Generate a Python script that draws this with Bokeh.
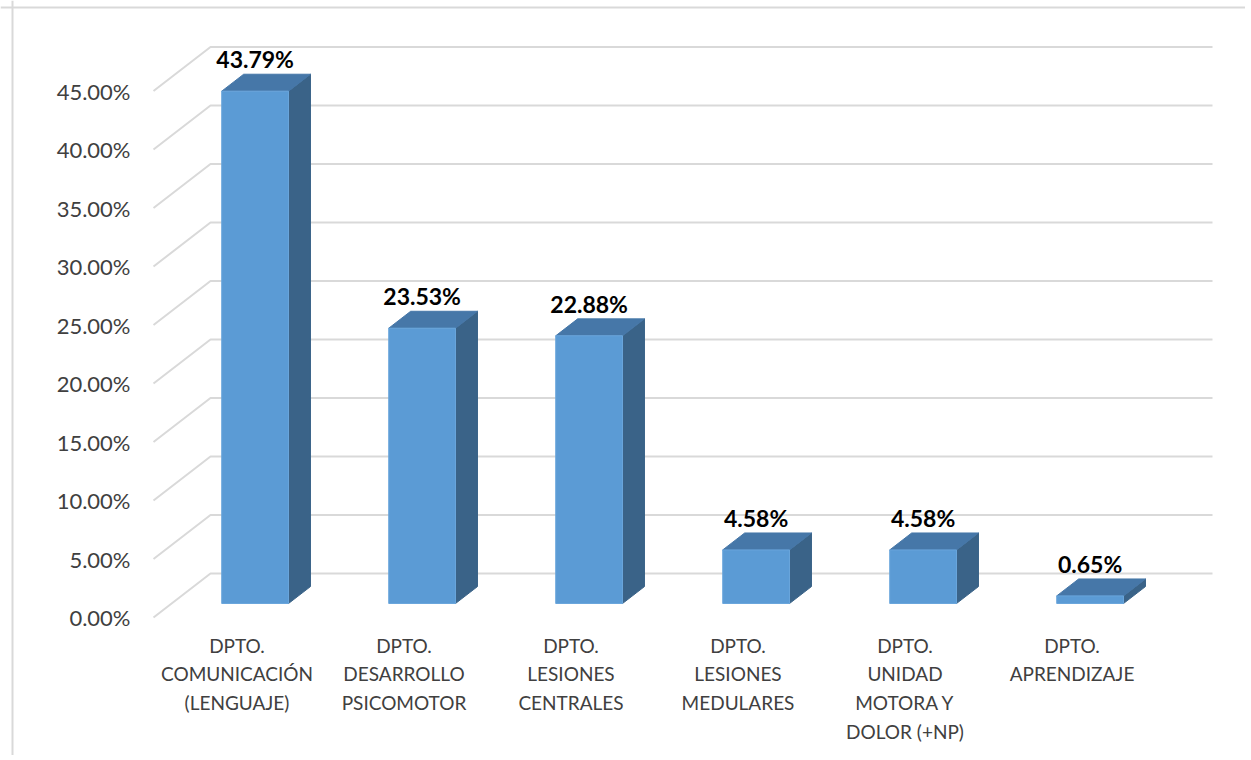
from bokeh.plotting import figure
from bokeh.models import Range1d, Span
from bokeh.core.properties import value
from bokeh.embed import file_html
from bokeh.resources import INLINE

# ---- data ----
categories = [
    "DPTO.\nCOMUNICACIÓN\n(LENGUAJE)",
    "DPTO.\nDESARROLLO\nPSICOMOTOR",
    "DPTO.\nLESIONES\nCENTRALES",
    "DPTO.\nLESIONES\nMEDULARES",
    "DPTO.\nUNIDAD\nMOTORA Y\nDOLOR (+NP)",
    "DPTO.\nAPRENDIZAJE",
]
values = [43.79, 23.53, 22.88, 4.58, 4.58, 0.65]
value_labels = ["43.79%", "23.53%", "22.88%", "4.58%", "4.58%", "0.65%"]
y_ticks = [0, 5, 10, 15, 20, 25, 30, 35, 40, 45]
y_tick_labels = ["0.00%", "5.00%", "10.00%", "15.00%", "20.00%", "25.00%",
                 "30.00%", "35.00%", "40.00%", "45.00%"]

# ---- layout (pixels) ----
W, H = 1245, 755
px_per_cat = 167.0
px_per_pct = 11.7
x0_px = 153.0          # front plane left, from plot left
y0_px = 617.0          # front plane 0%, from plot top
depth_dx_px, depth_dy_px = 57.0, 44.0

DX = depth_dx_px / px_per_cat
DY = depth_dy_px / px_per_pct
n = len(values)

x_range = Range1d(-x0_px / px_per_cat, (W - x0_px) / px_per_cat)
y_range = Range1d(-(H - y0_px) / px_per_pct, y0_px / px_per_pct)

p = figure(width=W, height=H, x_range=x_range, y_range=y_range,
           output_backend="svg", toolbar_location=None,
           min_border=0, min_border_left=0, min_border_right=0,
           min_border_top=0, min_border_bottom=0)
p.axis.visible = False
p.grid.visible = False
p.outline_line_color = None
p.background_fill_color = "white"
p.border_fill_color = "white"

# chart border (top and left)
p.add_layout(Span(location=y_range.end - 7 / px_per_pct, dimension="width",
                  line_color="#D9D9D9", line_width=2))
p.add_layout(Span(location=x_range.start + 12 / px_per_cat, dimension="height",
                  line_color="#D9D9D9", line_width=2))

# ---- 3D gridlines: left wall (slanted) + back wall ----
gx, gy = [], []
for t in y_ticks:
    gx.append([0, DX, n + DX])
    gy.append([t, t + DY, t + DY])
p.multi_line(gx, gy, line_color="#D9D9D9", line_width=2)

# ---- 3D bars ----
bw = 0.40
d_front = 0.318
d_len = 0.385
front_c = "#5B9BD5"
top_c = "#4677A8"
side_c = "#3A6388"

for i, v in enumerate(values):
    L = i + 0.5 - bw / 2 + d_front * DX
    R = L + bw
    B = d_front * DY
    T = v + B
    ox, oy = d_len * DX, d_len * DY
    # side face
    p.patch([R, R, R + ox, R + ox], [B, T, T + oy, B + oy],
            fill_color=side_c, line_color=side_c, line_width=1)
    # top face
    p.patch([L, R, R + ox, L + ox], [T, T, T + oy, T + oy],
            fill_color=top_c, line_color=top_c, line_width=1)
    # front face
    p.quad(left=L, right=R, bottom=B, top=T,
           fill_color=front_c, line_color="#6AA6DC", line_width=1)

# ---- data labels ----
lab_x = [i + 0.5 + d_front * DX for i in range(n)]
lab_y = [v + (d_front + d_len) * DY for v in values]
p.text(lab_x, lab_y, text=value_labels, text_align="center",
       text_baseline="bottom", y_offset=-1,
       text_font=value("Lato"), text_font_style="bold",
       text_font_size="23px", text_color="#000000")

# ---- y tick labels ----
p.text([-23 / px_per_cat] * len(y_ticks), y_ticks, text=y_tick_labels,
       text_align="right", text_baseline="middle",
       text_font=value("Lato"), text_font_size="22px", text_color="#404040")

# ---- category labels ----
p.text([i + 0.5 for i in range(n)], [-16 / px_per_pct] * n, text=categories,
       text_align="center", text_baseline="top", text_line_height=1.25,
       text_font=value("Lato"), text_font_size="19px", text_color="#404040")

open("out.html", "w").write(file_html(p, INLINE))
